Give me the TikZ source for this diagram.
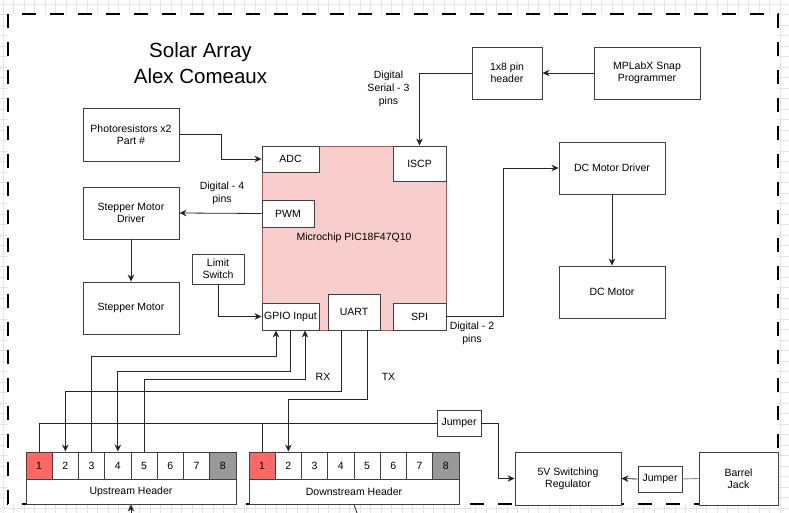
\documentclass[tikz,border=0pt]{standalone}
\usepackage{fontspec}
\setmainfont{Liberation Sans}
\usetikzlibrary{arrows.meta,calc}
\definecolor{mcufill}{HTML}{F8CECC}
\definecolor{mculine}{HTML}{B85450}
\definecolor{pinred}{HTML}{FF6666}
\definecolor{pingray}{HTML}{999999}
\definecolor{boxc}{HTML}{404040}
\definecolor{linec}{HTML}{262626}
\definecolor{gridc}{HTML}{E4E4E4}
\begin{document}
\begin{tikzpicture}[x=1pt,y=-1pt,
  box/.style={draw=boxc, line width=0.9pt, fill=white, rectangle, inner sep=1pt, align=center, font=\fontsize{10.5}{12}\selectfont},
  pinbox/.style={box, minimum width=26.25pt, minimum height=27pt},
  conn/.style={draw=linec, line width=0.8pt},
  arr/.style={conn, -{Stealth[length=7pt,width=6.5pt,inset=2.2pt]}},
  lbl/.style={align=center, font=\fontsize{10.5}{12.8}\selectfont, inner sep=0pt}]
\useasboundingbox (0,0) rectangle (789,513);
% background grid
\foreach \x in {3,13.5,...,789} \draw[gridc, line width=0.8pt] (\x,0) -- (\x,513);
\foreach \y in {4,14.5,...,513} \draw[gridc, line width=0.8pt] (0,\y) -- (789,\y);
\fill[white] (8,14) rectangle (778,504);
\draw[black, line width=2.2pt, dash pattern=on 14pt off 14pt] (8,14) rectangle (778,504);

% title
\node[align=center, font=\fontsize{20.5}{26}\selectfont] (title) at (200.5,63) {Solar Array\\Alex Comeaux};

% boxes
\node[box, minimum width=96pt, minimum height=53pt] (photo) at (131,134.5) {Photoresistors x2\\Part \#};
\node[box, minimum width=96pt, minimum height=52pt] (smd) at (131,213) {Stepper Motor\\Driver};
\node[box, minimum width=96pt, minimum height=52pt] (sm) at (131,308) {Stepper Motor};
\node[box, minimum width=52pt, minimum height=30pt] (limit) at (218,269) {Limit\\Switch};

\node[box, draw=mculine, fill=mcufill, minimum width=184pt, minimum height=184pt] (mcu) at (354,238) {Microchip PIC18F47Q10};
\node[box, minimum width=57pt, minimum height=26pt] (adc) at (290.5,159) {ADC};
\node[box, minimum width=53pt, minimum height=35pt] (iscp) at (419.5,163.5) {ISCP};
\node[box, minimum width=52pt, minimum height=27pt] (pwm) at (288,213.5) {PWM};
\node[box, minimum width=57pt, minimum height=27pt] (gpio) at (290.5,316.5) {GPIO Input};
\node[box, minimum width=52pt, minimum height=36pt] (uart) at (354,312) {UART};
\node[box, minimum width=53pt, minimum height=27pt] (spi) at (419.5,316.5) {SPI};

\node[box, minimum width=70pt, minimum height=52pt] (hdr) at (507,73) {1x8 pin\\header};
\node[box, minimum width=106pt, minimum height=52pt] (snap) at (647,73) {MPLabX Snap\\Programmer};
\node[box, minimum width=106pt, minimum height=52pt] (dcd) at (612,168) {DC Motor Driver};
\node[box, minimum width=106pt, minimum height=52pt] (dcm) at (612,292) {DC Motor};

\node[box, minimum width=44pt, minimum height=26pt] (jmpa) at (459,423) {Jumper};
\node[box, minimum width=106pt, minimum height=53pt] (reg) at (568,478.5) {5V Switching\\Regulator};
\node[box, minimum width=44pt, minimum height=26pt] (jmpb) at (660,479) {Jumper};
\node[box, minimum width=79pt, minimum height=53pt] (barrel) at (738.5,478.5) {Barrel\\Jack};

% headers
\node[pinbox, fill=pinred] (up1) at ({26+26.25*0.5},465.5) {1};
\foreach \i in {2,...,7} \node[pinbox] (up\i) at ({26+26.25*(\i-0.5)},465.5) {\i};
\node[pinbox, fill=pingray] (up8) at ({26+26.25*7.5},465.5) {8};
\node[box, minimum width=210pt, minimum height=25pt] (uplbl) at (131,491.5) {Upstream Header};

\node[pinbox, fill=pinred] (dn1) at ({249+26.25*0.5},465.5) {1};
\foreach \i in {2,...,7} \node[pinbox] (dn\i) at ({249+26.25*(\i-0.5)},465.5) {\i};
\node[pinbox, fill=pingray] (dn8) at ({249+26.25*7.5},465.5) {8};
\node[box, minimum width=210pt, minimum height=25pt] (dnlbl) at (354,491.5) {Downstream Header};

% connectors
\draw[arr] (photo.east) -- (221,0 |- photo.east) |- (adc.west);
\draw[arr] (pwm.west) -- (smd.east);
\draw[arr] (smd.south) -- (sm.north);
\draw[arr] (limit.south) |- (gpio.west);
\draw[arr] (hdr.west) -| (iscp.north);
\draw[arr] (snap.west) -- (hdr.east);
\draw[arr] (spi.east) -- (503,0 |- spi.east) |- (dcd.west);
\draw[arr] (dcd.south) -- (dcm.north);

\draw[arr] (up3.north) |- (276,356) -- (276,0 |- gpio.south);
\draw[arr] (290,0 |- gpio.south) -- (290,371) -| (up4.north);
\draw[arr] (up5.north) |- (305,379) -- (305,0 |- gpio.south);
\draw[arr] (341,0 |- uart.south) -- (341,391) -| (up2.north);
\draw[arr] (367,0 |- uart.south) -- (367,399) -| (dn2.north);

\draw[conn] (up1.north) |- (jmpa.west);
\draw[conn] (dn1.north) -- (dn1.north |- jmpa.west);
\draw[arr] (jmpa.east) -- (498,0 |- jmpa.east) |- (reg.west);
\draw[conn, draw=gray] (barrel.west) -- (jmpb.east);
\draw[arr] (jmpb.west) -- (reg.east);

\coordinate (botA) at (131,513);
\coordinate (botB) at (357,513);
\draw[arr] (botA) -- (uplbl.south);
\draw[conn] (dnlbl.south) -- (botB);

% labels
\node[lbl] (l4) at (222,193.5) {Digital - 4\\pins};
\node[lbl] (l3) at (388.5,88.5) {Digital\\Serial - 3\\pins};
\node[lbl] (l2) at (472,333.5) {Digital - 2\\pins};
\node[lbl] (rx) at (323,377) {RX};
\node[lbl] (tx) at (388.5,377) {TX};
\end{tikzpicture}
\end{document}
